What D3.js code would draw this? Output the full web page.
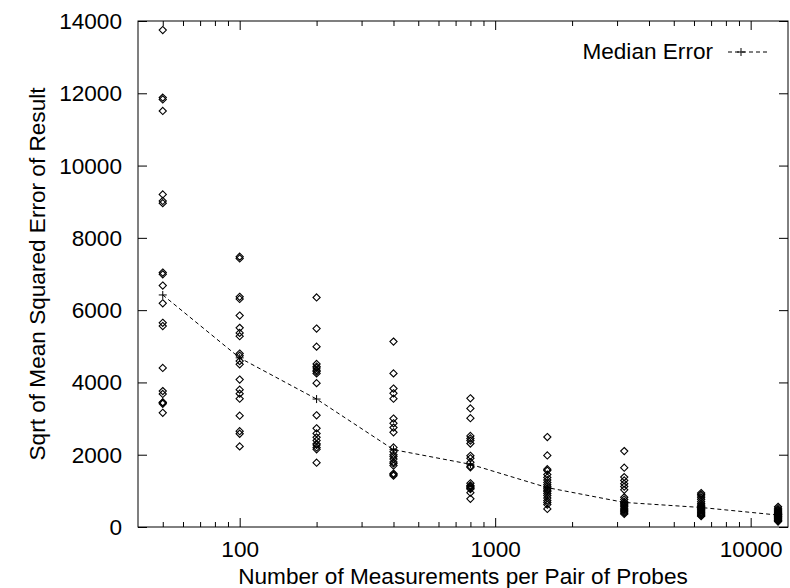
<!DOCTYPE html>
<html>
<head>
<meta charset="utf-8">
<script src="https://cdn.jsdelivr.net/npm/d3@7"></script>
<style>
  html, body { margin: 0; padding: 0; background: #fff; }
  svg { display: block; }
  text { font-family: "Liberation Sans", Arial, Helvetica, sans-serif; fill: #000; }
</style>
</head>
<body>
<svg id="chart" width="790" height="588"></svg>
<script>
// ---- data ----
const measurements = [50, 100, 200, 400, 800, 1600, 3200, 6400, 12800];

const errors50 = [13750, 11880, 11830, 11510, 9200, 9020, 8960, 7040, 6990, 6680,
                  6190, 5650, 5560, 4400, 3760, 3680, 3450, 3440, 3410, 3160];
const errors100 = [7480, 7430, 6370, 6310, 5850, 5510, 5370, 5280, 4800, 4740,
                   4590, 4500, 4080, 3800, 3690, 3550, 3080, 2650, 2580, 2230];
const errors200 = [6350, 5490, 4990, 4510, 4440, 4400, 4340, 4300, 4250, 3980,
                   3090, 2730, 2590, 2480, 2390, 2300, 2270, 2200, 2150, 1780];
const errors400 = [5130, 4250, 3830, 3700, 3550, 3000, 2870, 2750, 2620, 2200,
                   2080, 2000, 1950, 1880, 1800, 1760, 1700, 1480, 1450, 1420];
const errors800 = [3560, 3280, 3010, 2520, 2450, 2390, 2310, 1970, 1900, 1790,
                   1680, 1650, 1210, 1150, 1130, 1100, 1070, 1050, 950, 780];
const errors1600 = [2490, 1980, 1600, 1560, 1450, 1370, 1300, 1230, 1170, 1120,
                    1060, 1020, 980, 930, 870, 800, 730, 680, 620, 500];
const errors3200 = [2100, 1640, 1380, 1290, 1200, 1120, 1030, 820, 760, 700,
                    660, 630, 590, 560, 520, 480, 450, 420, 390, 360];
const errors6400 = [940, 900, 860, 810, 760, 700, 650, 610, 580, 560,
                    520, 500, 480, 450, 420, 400, 370, 350, 320, 300];
const errors12800 = [560, 520, 480, 450, 420, 400, 380, 360, 350, 340,
                     320, 300, 290, 270, 250, 230, 210, 190, 170, 150];

const medianError = [6420, 4680, 3540, 2140, 1735, 1090, 680, 540, 330];

const xMajorTicks = [100, 1000, 10000];
const xMinorTicks = [50, 60, 70, 80, 90, 200, 300, 400, 500, 600, 700, 800, 900,
                     2000, 3000, 4000, 5000, 6000, 7000, 8000, 9000];
const yTicks = [0, 2000, 4000, 6000, 8000, 10000, 12000, 14000];

const xLabel = "Number of Measurements per Pair of Probes";
const yLabel = "Sqrt of Mean Squared Error of Result";
const legendLabel = "Median Error";

// ---- layout ----
const svg = d3.select("#chart");
const L = 138, R = 788, T = 21, B = 527;
const x = d3.scaleLog().domain([40, 14000]).range([L, R]);
const y = d3.scaleLinear().domain([0, 14000]).range([B, T]);
const FS = 22.6;

const allErrors = [errors50, errors100, errors200, errors400, errors800,
                   errors1600, errors3200, errors6400, errors12800];
const points = [];
measurements.forEach((m, i) => allErrors[i].forEach(v => points.push({m, v})));

// axes (ticks inward, mirrored)
function styleAxis(g) {
  g.select(".domain").remove();
  g.selectAll("line").attr("stroke", "#000").attr("stroke-width", 1);
}
svg.append("g").attr("transform", `translate(0,${B})`)
  .call(d3.axisBottom(x).tickValues(xMajorTicks).tickSize(-9).tickPadding(0).tickFormat(d3.format("d")))
  .call(styleAxis)
  .call(g => g.selectAll("text").attr("font-size", FS).attr("y", 30).attr("dy", 0)
      .attr("font-family", '"Liberation Sans", Arial, sans-serif').attr("fill", "#000"));
svg.append("g").attr("transform", `translate(0,${B})`)
  .call(d3.axisBottom(x).tickValues(xMinorTicks).tickSize(-5).tickFormat(""))
  .call(styleAxis);
svg.append("g").attr("transform", `translate(0,${T})`)
  .call(d3.axisTop(x).tickValues(xMajorTicks).tickSize(-9).tickFormat(""))
  .call(styleAxis);
svg.append("g").attr("transform", `translate(0,${T})`)
  .call(d3.axisTop(x).tickValues(xMinorTicks).tickSize(-5).tickFormat(""))
  .call(styleAxis);
svg.append("g").attr("transform", `translate(${L},0)`)
  .call(d3.axisLeft(y).tickValues(yTicks).tickSize(-9).tickPadding(0).tickFormat(d3.format("d")))
  .call(styleAxis)
  .call(g => g.selectAll("text").attr("font-size", FS).attr("x", -16).attr("dy", "0.33em")
      .attr("font-family", '"Liberation Sans", Arial, sans-serif').attr("fill", "#000"));
svg.append("g").attr("transform", `translate(${R},0)`)
  .call(d3.axisRight(y).tickValues(yTicks).tickSize(-9).tickFormat(""))
  .call(styleAxis);

// frame
svg.append("rect").attr("x", L).attr("y", T).attr("width", R - L).attr("height", B - T)
  .attr("fill", "none").attr("stroke", "#000").attr("stroke-width", 1);

// scatter diamonds
const ds = 3.6;
svg.append("g").selectAll("path").data(points).join("path")
  .attr("d", d => {
    const cx = x(d.m), cy = y(d.v);
    return `M${cx},${cy - ds}L${cx + ds},${cy}L${cx},${cy + ds}L${cx - ds},${cy}Z`;
  })
  .attr("fill", "none").attr("stroke", "#000").attr("stroke-width", 1.1);

// median line
const line = d3.line().x((d, i) => x(measurements[i])).y(d => y(d));
svg.append("path").datum(medianError).attr("d", line)
  .attr("fill", "none").attr("stroke", "#000").attr("stroke-width", 1)
  .attr("stroke-dasharray", "4,3");
const ps = 4;
svg.append("g").selectAll("path").data(medianError).join("path")
  .attr("d", (d, i) => {
    const cx = x(measurements[i]), cy = y(d);
    return `M${cx - ps},${cy}H${cx + ps}M${cx},${cy - ps}V${cy + ps}`;
  })
  .attr("stroke", "#000").attr("stroke-width", 1);

// legend
svg.append("text").attr("x", 713).attr("y", 59).attr("text-anchor", "end")
  .attr("font-size", FS).text(legendLabel);
svg.append("line").attr("x1", 728).attr("x2", 767).attr("y1", 52).attr("y2", 52)
  .attr("stroke", "#000").attr("stroke-width", 1).attr("stroke-dasharray", "4,3");
svg.append("path").attr("d", `M${741 - ps},52H${741 + ps}M741,${52 - ps}V${52 + ps}`)
  .attr("stroke", "#000").attr("stroke-width", 1);

// axis titles
svg.append("text").attr("x", (L + R) / 2).attr("y", 584).attr("text-anchor", "middle")
  .attr("font-size", FS).text(xLabel);
svg.append("text").attr("transform", `translate(45,${(T + B) / 2}) rotate(-90)`)
  .attr("text-anchor", "middle").attr("font-size", FS).text(yLabel);
</script>
</body>
</html>
